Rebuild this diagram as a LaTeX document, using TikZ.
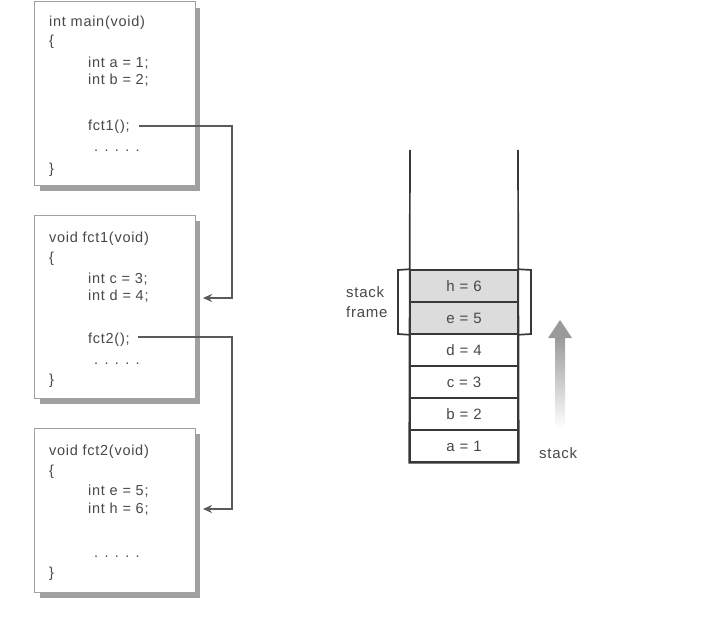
\documentclass[tikz,border=0pt]{standalone}
\usepackage{fontspec}
\setmainfont[LetterSpace=5]{Liberation Sans}
\usetikzlibrary{arrows.meta}
\definecolor{txt}{HTML}{484848}
\definecolor{boxline}{HTML}{A0A0A0}
\definecolor{shadowc}{HTML}{A0A0A0}
\definecolor{conn}{HTML}{5A5A5A}
\definecolor{wall}{HTML}{383838}
\definecolor{framefill}{HTML}{DCDCDC}
\definecolor{arrowg}{HTML}{9A9A9A}
\tikzset{
  codebox/.style={draw=boxline, line width=1pt, fill=white},
  boxshadow/.style={fill=shadowc, draw=none},
  code/.style={anchor=base west, inner sep=0pt, text=txt, font=\fontsize{14.5}{16}\selectfont},
  conline/.style={draw=conn, line width=2.2pt},
  conarrow/.style={conline, -{Stealth[length=9pt,width=8pt]}},
  cell/.style={draw=wall, line width=1.5pt, minimum width=108pt, minimum height=32pt, inner sep=0pt, text=txt, font=\fontsize{15}{16}\selectfont},
  wallline/.style={draw=wall, line width=1.7pt},
  lbl/.style={anchor=base west, inner sep=0pt, text=txt, font=\fontsize{15}{17}\selectfont},
}
\begin{document}
\begin{tikzpicture}[x=1pt,y=-1pt]
\useasboundingbox (0,0) rectangle (716,618);
% ---------- box 1 ----------
\fill[boxshadow] (40,8) rectangle (200,191);
\draw[codebox] (34,2) rectangle (195,185);
\node[code] (m0) at (49,27) {int main(void)};
\node[code] (m1) at (49,46) {\{};
\node[code] (m2) at (88,67.5) {int a = 1;};
\node[code] (m3) at (88,85) {int b = 2;};
\node[code] (f1) at (88,131) {fct1();};
\node[code] (m5) at (94,151) {. . . . .};
\node[code] (m6) at (49,173) {\}};
% ---------- box 2 ----------
\fill[boxshadow] (40,221) rectangle (200,404);
\draw[codebox] (34,215) rectangle (195,398);
\node[code] (s0) at (49,242) {void fct1(void)};
\node[code] (s1) at (49,262) {\{};
\node[code] (s2) at (88,283) {int c = 3;};
\node[code] (s3) at (88,300) {int d = 4;};
\node[code] (f2) at (88,343) {fct2();};
\node[code] (s5) at (94,364) {. . . . .};
\node[code] (s6) at (49,384) {\}};
% ---------- box 3 ----------
\fill[boxshadow] (40,434) rectangle (200,598);
\draw[codebox] (34,428) rectangle (195,592);
\node[code] (t0) at (49,455) {void fct2(void)};
\node[code] (t1) at (49,475) {\{};
\node[code] (t2) at (88,495) {int e = 5;};
\node[code] (t3) at (88,513) {int h = 6;};
\node[code] (t5) at (94,557) {. . . . .};
\node[code] (t6) at (49,577) {\}};
% ---------- connectors ----------
\coordinate (c1) at (139,126);
\coordinate (e1) at (203,298);
\coordinate (c2) at (138,337);
\coordinate (e2) at (203,509);
\draw[conarrow] (c1) -- (232,126) |- (e1);
\draw[conarrow] (c2) -- (232,337) |- (e2);
% ---------- stack ----------
\node[cell, fill=framefill] (sh) at (464,286) {h = 6};
\node[cell, fill=framefill] (se) at (464,318) {e = 5};
\node[cell] (sd) at (464,350) {d = 4};
\node[cell] (sc) at (464,382) {c = 3};
\node[cell] (sb) at (464,414) {b = 2};
\node[cell] (sa) at (464,446) {a = 1};
\draw[wallline] (410,150) -- (sa.south west) -- (sa.south east) -- (518,150);
% brackets
\draw[wallline] (sh.north west) -- (398,270) -- (398,334) -- (se.south west);
\draw[wallline] (sh.north east) -- (531,270) -- (531,334) -- (se.south east);
\node[lbl] (sf1) at (346,297) {stack};
\node[lbl] (sf2) at (346,317) {frame};
% growth arrow
\shade[top color=arrowg, bottom color=white] (555,337) rectangle (565,428);
\fill[arrowg] (548,338) -- (560,320) -- (572,338) -- cycle;
\node[lbl] (stk) at (539,458) {stack};
\end{tikzpicture}
\end{document}
